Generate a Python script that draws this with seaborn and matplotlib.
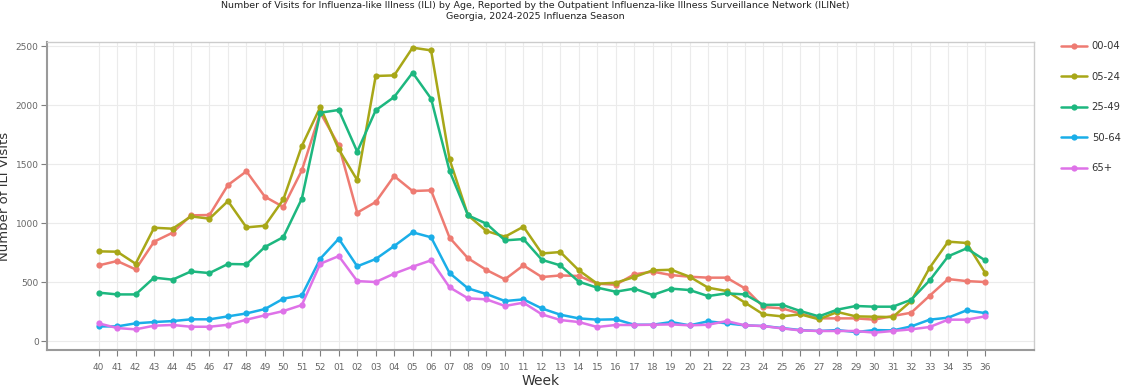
import numpy as np
import pandas as pd
import matplotlib
matplotlib.use("Agg")
import matplotlib.pyplot as plt
import seaborn as sns

weeks = ["40", "41", "42", "43", "44", "45", "46", "47", "48", "49", "50", "51", "52",
         "01", "02", "03", "04", "05", "06", "07", "08", "09", "10", "11", "12",
         "13", "14", "15", "16", "17", "18", "19", "20", "21", "22", "23", "24",
         "25", "26", "27", "28", "29", "30", "31", "32", "33", "34", "35", "36"]

age_groups = ["00-04", "05-24", "25-49", "50-64", "65+"]

v_00_04 = [641, 678, 607, 842, 918, 1065, 1068, 1322, 1438, 1223, 1136, 1446, 1935,
           1658, 1088, 1178, 1398, 1271, 1277, 876, 701, 602, 523, 641, 542,
           556, 551, 486, 477, 565, 588, 559, 545, 537, 537, 446, 288,
           277, 232, 192, 192, 192, 181, 212, 240, 384, 525, 508, 500]
v_05_24 = [760, 757, 655, 960, 952, 1056, 1037, 1186, 963, 977, 1200, 1653, 1983,
           1624, 1364, 2246, 2251, 2486, 2463, 1540, 1065, 932, 884, 969, 742,
           754, 599, 486, 494, 542, 599, 604, 545, 452, 424, 325, 225,
           209, 226, 184, 246, 209, 206, 203, 339, 621, 842, 831, 579]
v_25_49 = [410, 395, 395, 537, 520, 590, 576, 653, 650, 797, 881, 1206, 1935,
           1958, 1605, 1955, 2068, 2274, 2054, 1441, 1065, 994, 853, 864, 688,
           641, 503, 452, 418, 444, 390, 444, 432, 381, 404, 395, 306,
           308, 254, 209, 266, 297, 291, 291, 350, 514, 718, 785, 684]
v_50_64 = [124, 124, 150, 161, 169, 184, 184, 209, 234, 271, 359, 387, 698,
           867, 633, 695, 805, 921, 879, 576, 446, 398, 339, 353, 276,
           223, 192, 181, 184, 138, 138, 161, 133, 167, 150, 133, 127,
           110, 93, 85, 93, 76, 93, 90, 124, 181, 198, 260, 237]
v_65p = [150, 110, 99, 130, 136, 121, 121, 138, 181, 218, 254, 305, 655,
         720, 508, 500, 571, 630, 684, 455, 362, 353, 297, 325, 226,
         178, 161, 119, 136, 136, 138, 141, 133, 138, 169, 133, 127,
         107, 90, 85, 85, 85, 71, 85, 99, 119, 181, 181, 209]

colors = ["#EE7B72", "#A8A718", "#1DB77F", "#1AAEE8", "#DE72E8"]

series = [v_00_04, v_05_24, v_25_49, v_50_64, v_65p]
df = pd.concat([
    pd.DataFrame({"Week": weeks, "Visits": vals, "Age": grp})
    for grp, vals in zip(age_groups, series)
], ignore_index=True)

sns.set_theme(style="white")
plt.rcParams["font.family"] = ["DejaVu Sans"]

fig = plt.figure(figsize=(11.27, 3.87), dpi=100)
ax = fig.add_axes([47 / 1127, 1 - 350 / 387, (1034 - 47) / 1127, (350 - 42) / 387])

sns.lineplot(data=df, x="Week", y="Visits", hue="Age", hue_order=age_groups,
             palette=colors, marker="o", markersize=4.5, markeredgewidth=0,
             linewidth=1.8, sort=False, ax=ax)

ax.set_xlim(-2.8, 50.65)
ax.set_ylim(-76, 2534)
ax.set_yticks([0, 500, 1000, 1500, 2000, 2500])
ax.grid(True, color="#ebebeb", linewidth=0.8)
ax.set_axisbelow(True)

for side in ["top", "right"]:
    ax.spines[side].set_color("#cccccc")
    ax.spines[side].set_linewidth(1.0)
for side in ["left", "bottom"]:
    ax.spines[side].set_color("#9a9a9a")
    ax.spines[side].set_linewidth(1.5)

ax.tick_params(axis="both", which="major", length=4, width=0.8, color="#7f7f7f",
               labelsize=6.5, labelcolor="#666666", left=True, bottom=True, pad=2)
ax.tick_params(axis="x", pad=5)

ax.set_xlabel("Week", fontsize=10, color="#333333", labelpad=2)
ax.set_ylabel("Number of ILI Visits", fontsize=9.5, color="#333333", labelpad=3)

fig.suptitle("Number of Visits for Influenza-like Illness (ILI) by Age, Reported by the Outpatient Influenza-like Illness Surveillance Network (ILINet)\n"
             "Georgia, 2024-2025 Influenza Season",
             fontsize=6.8, color="#222222", y=0.998, x=0.475, linespacing=1.25, va="top")

leg = ax.legend(title=None, frameon=False, loc="upper left",
                bbox_to_anchor=(1.020, 1.025), fontsize=7.2, handlelength=2.6,
                handletextpad=0.5, labelspacing=2.05, borderaxespad=0.3)
for t in leg.get_texts():
    t.set_color("#333333")

fig.savefig("out.png", dpi=100)
